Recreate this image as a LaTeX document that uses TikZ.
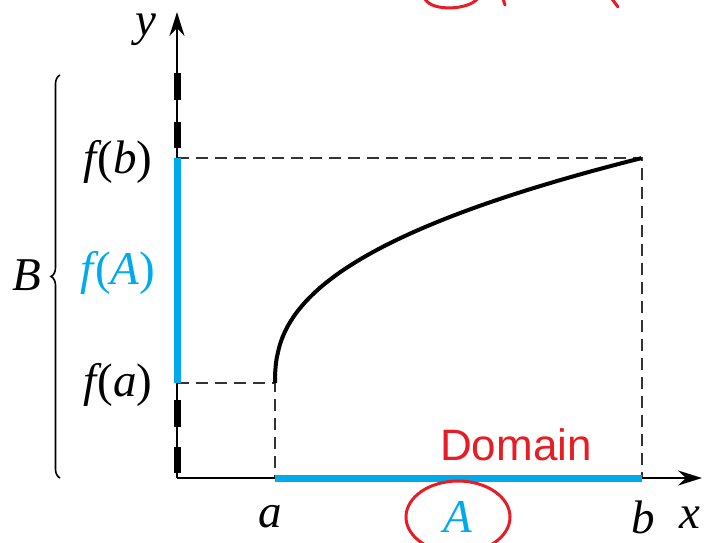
\documentclass[tikz,border=0pt]{standalone}
\usepackage{fontspec}
\setmainfont{Liberation Serif}
\setsansfont{Liberation Sans}
\usetikzlibrary{arrows.meta, decorations.pathreplacing}
\definecolor{domblue}{RGB}{0,170,235}
\definecolor{inkred}{RGB}{232,28,36}

\begin{document}
\begin{tikzpicture}[x=1pt, y=-1pt,
  axis/.style={line width=2.4pt, -{Stealth[length=24pt, width=15pt, inset=8pt]}},
  guide/.style={dash pattern=on 12pt off 7pt, line width=2pt, color=black!80},
  setline/.style={line width=7pt, color=domblue},
  thickdash/.style={line width=7pt, line cap=butt},
  lbl/.style={font=\fontsize{47}{50}\selectfont\itshape, inner sep=0pt},
  pen/.style={color=inkred, line width=3pt, line cap=round},
]
\useasboundingbox (0,0) rectangle (709,542);
\clip (0,0) rectangle (709,542);

% Points
\coordinate (O) at (177,478);
\coordinate (xend) at (702,478);
\coordinate (yend) at (177,12);
\coordinate (a) at (275,478);
\coordinate (b) at (642,478);
\coordinate (fa) at (177,383);
\coordinate (fb) at (177,158);
\coordinate (Pa) at (275,383);
\coordinate (Pb) at (642,158);

% Dashed guides
\draw[guide] (fa) -- (Pa) -- (a);
\draw[guide] (fb) -- (Pb) -- (b);

% Axes
\draw[axis] (O) -- (xend);
\draw[axis] (O) -- (yend);
\foreach \ya/\yb in {73/100, 122/148, 400/427, 447/473}
  \draw[thickdash] (177,\ya) -- (177,\yb);

% Sets
\draw[setline] (a) -- (b);
\draw[setline] (fa) -- (fb);

% Graph of f
\draw[line width=4pt] plot[domain=0:1, samples=80, smooth] ({275+367*(\x)^2.44},{383-225*\x});

% Codomain brace
\coordinate (br1) at (60,478);
\coordinate (br2) at (60,75);
\draw[line width=1.6pt, decorate, decoration={brace, amplitude=9pt}] (br1) -- (br2);

% Labels
\node[lbl] (ylab) at (146,30) {y};
\node[lbl] (xlab) at (690,518) {x};
\node[lbl] (alab) at (270,517) {a};
\node[lbl, text=domblue] (Alab) at (458,517) {A};
\node[lbl] (blab) at (643,517) {b};
\node[lbl] (fblab) at (118,162) {f\kern1pt\upshape(\itshape b\upshape)};
\node[lbl, text=domblue] (fAlab) at (118,273) {f\kern1pt\upshape(\itshape A\upshape)};
\node[lbl] (falab) at (118,385) {f\kern1pt\upshape(\itshape a\upshape)};
\node[lbl] (Blab) at (27,275) {B};

% Handwritten notes
\node[font=\sffamily\fontsize{44}{48}\selectfont, text=inkred, inner sep=0pt] (dom) at (516,445) {Domain};
\draw[pen] (Alab) ellipse [x radius=52, y radius=36];
\draw[pen] (425,-1) .. controls (432,12) and (470,10) .. (478,-2);
\draw[pen] (503,-1) -- (505,5);
\draw[pen] (612,-1) -- (618,7);

\end{tikzpicture}
\end{document}
